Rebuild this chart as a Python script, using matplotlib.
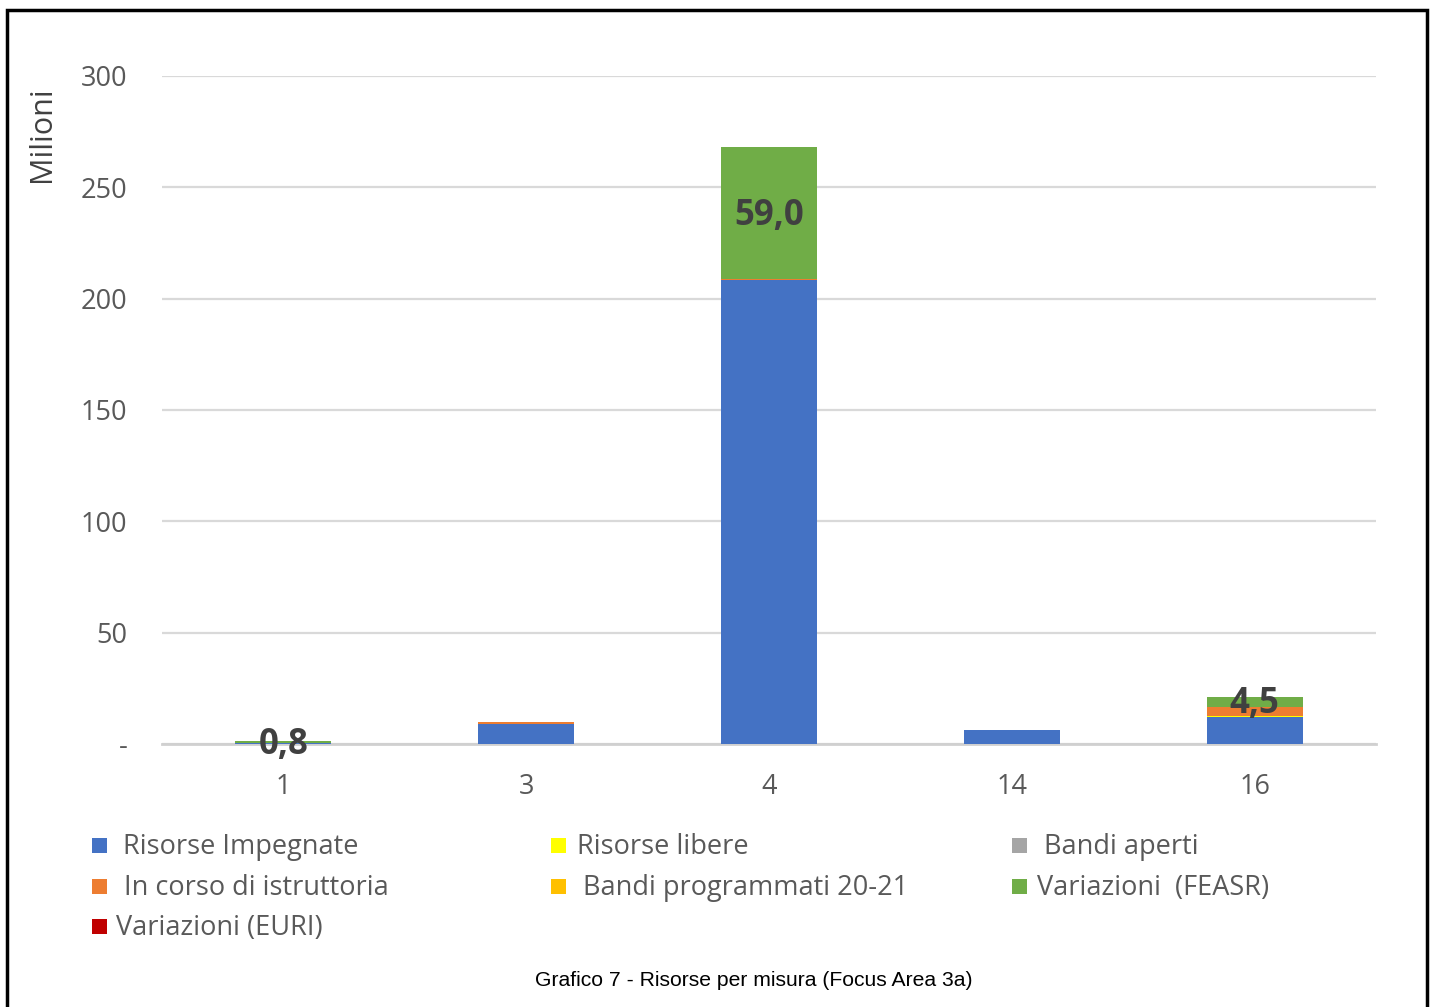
import matplotlib
matplotlib.use("Agg")
import matplotlib.pyplot as plt
from matplotlib.patches import Rectangle
import numpy as np

categories = ['1', '3', '4', '14', '16']
impegnate = [0.5, 9.0, 208.3, 6.3, 12.1]
libere = [0.0, 0.0, 0.0, 0.0, 0.6]
bandi_aperti = [0.0, 0.0, 0.0, 0.0, 0.0]
in_corso = [0.0, 0.7, 0.7, 0.0, 4.0]
bandi_prog = [0.0, 0.0, 0.0, 0.0, 0.0]
var_feasr = [0.8, 0.0, 59.0, 0.0, 4.5]
var_euri = [0.0, 0.0, 0.0, 0.0, 0.0]

series_names = ['Risorse Impegnate', 'Risorse libere', 'Bandi aperti',
                'In corso di istruttoria', 'Bandi programmati 20-21',
                'Variazioni  (FEASR)', 'Variazioni (EURI)']
series_vals = [impegnate, libere, bandi_aperti, in_corso, bandi_prog, var_feasr, var_euri]
colors = ['#4472C4', '#FFFF00', '#A5A5A5', '#ED7D31', '#FFC000', '#70AD47', '#C00000']

yticks = [0, 50, 100, 150, 200, 250, 300]
yticklabels = ['-', '50', '100', '150', '200', '250', '300']

W, H = 1433, 1007
fig = plt.figure(figsize=(W / 100, H / 100), dpi=100)
fig.patch.set_facecolor('white')

ax = fig.add_axes([162 / W, 1 - 744 / H, (1376 - 162) / W, (744 - 76) / H])
x = np.arange(len(categories))
bottom = np.zeros(len(categories))
for name, vals, c in zip(series_names, series_vals, colors):
    v = np.array(vals)
    ax.bar(x, v, bottom=bottom, width=0.395, color=c, zorder=3)
    if name.startswith('Variazioni  (FEASR)'):
        for xi, b, vi in zip(x, bottom, v):
            if vi > 0:
                ax.text(xi, b + vi / 2 - 1.2, f"{vi:.1f}".replace('.', ','), ha='center', va='center',
                        fontsize=25, fontweight='bold', color='#404040', family='Open Sans', zorder=5)
    bottom += v

ax.set_xlim(-0.5, len(categories) - 0.5)
ax.set_ylim(0, 300)
ax.set_yticks(yticks)
ax.set_yticklabels(yticklabels)
ax.set_xticks(x)
ax.set_xticklabels(categories)
for s in ['top', 'right', 'left']:
    ax.spines[s].set_visible(False)
ax.spines['bottom'].set_color('#D0D0D0')
ax.spines['bottom'].set_linewidth(2)
ax.grid(axis='y', color='#D9D9D9', linewidth=1.6, zorder=0)
ax.tick_params(axis='both', length=0, labelsize=19.5, labelcolor='#595959')
ax.tick_params(axis='y', pad=25)
ax.tick_params(axis='x', pad=21)
for lab in ax.get_xticklabels() + ax.get_yticklabels():
    lab.set_family('Open Sans')
ax.set_facecolor('white')

fig.text(42 / W, 1 - 134 / H, 'Milioni', rotation=90, ha='center', va='center',
         fontsize=22, color='#404040', family='Open Sans')

# Legend (manual layout)
legend_items = [
    (0, 92, 123, 845), (1, 551, 577, 845), (2, 1012, 1044, 845),
    (3, 92, 124, 886), (4, 551, 583, 886), (5, 1012, 1037, 886),
    (6, 92, 116, 926),
]
sq = 15
for idx, mx, tx, ty in legend_items:
    fig.patches.append(Rectangle((mx / W, 1 - (ty + sq / 2) / H), sq / W, sq / H,
                                 transform=fig.transFigure, facecolor=colors[idx],
                                 edgecolor='none'))
    fig.text(tx / W, 1 - (ty + 2) / H, series_names[idx], ha='left', va='center',
             fontsize=19.5, color='#595959', family='Open Sans')

fig.text(754 / W, 1 - 981 / H, 'Grafico 7 - Risorse per misura (Focus Area 3a)',
         ha='center', va='center', fontsize=15.2, color='black', family='Liberation Sans')

fig.patches.append(Rectangle((7 / W, -0.01), (1427 - 7) / W, 1 - 10 / H + 0.01,
                             transform=fig.transFigure, fill=False, edgecolor='black',
                             linewidth=2.5))

fig.savefig('out.png', dpi=100, facecolor='white')
